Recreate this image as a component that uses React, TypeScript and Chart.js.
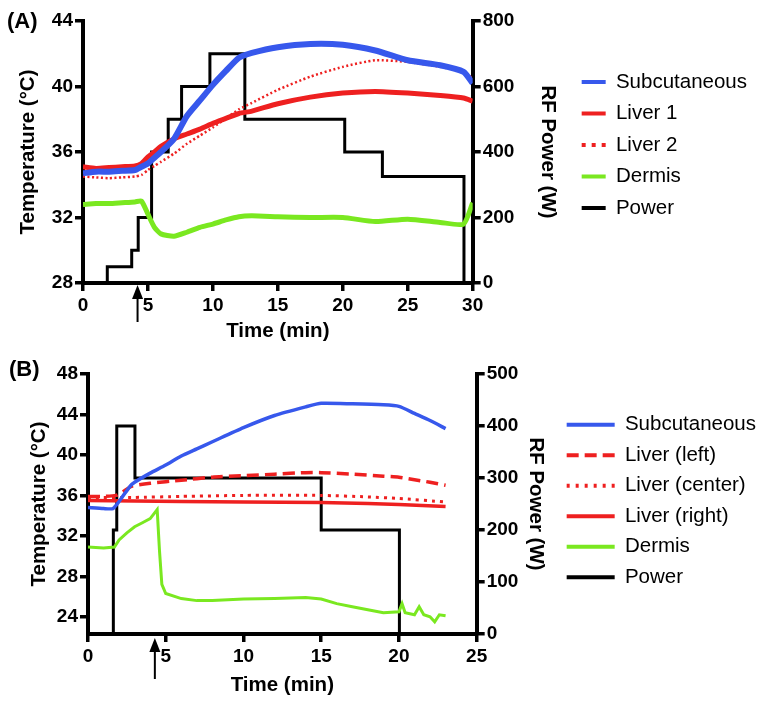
import React, { useEffect, useRef } from 'react';
import { Chart, registerables } from 'chart.js';

Chart.register(...registerables);

const FONT = "'Liberation Sans', Arial, Helvetica, sans-serif";
const BLUE = 'rgb(55,88,236)';
const RED = 'rgb(238,32,32)';
const GREEN = 'rgb(122,232,32)';
const BLACK = '#000000';

// ---------- Panel A ----------
const xTicksA = [0, 5, 10, 15, 20, 25, 30];
const tempTicksA = [28, 32, 36, 40, 44];
const powerTicksA = [0, 200, 400, 600, 800];
const timeA = [0, 1, 2, 3, 4, 4.5, 5, 5.5, 6, 7, 8, 9, 10, 11, 12, 13, 15, 17.5, 20, 22.5, 25, 27.5, 29.3, 30];
const subcutaneousA = [34.7, 34.8, 34.8, 34.85, 34.9, 35.1, 35.3, 35.65, 36.0, 36.8, 38.2, 39.15, 40.1, 40.95, 41.75, 42.05, 42.4, 42.6, 42.55, 42.2, 41.6, 41.3, 40.9, 40.2];
const liver1A = [35.1, 35.0, 35.05, 35.1, 35.15, 35.3, 35.7, 36.0, 36.35, 36.8, 37.1, 37.4, 37.75, 38.05, 38.35, 38.5, 38.95, 39.35, 39.6, 39.7, 39.6, 39.45, 39.3, 39.1];
const liver2A = [34.5, 34.45, 34.4, 34.45, 34.5, 34.6, 34.9, 35.15, 35.4, 35.9, 36.5, 37.0, 37.5, 38.05, 38.6, 39.0, 39.8, 40.6, 41.2, 41.6, 41.5, 41.2, 40.9, 40.5];
const dermisA = [32.8, 32.85, 32.85, 32.9, 32.95, 33.0, 32.2, 31.4, 31.0, 30.85, 31.1, 31.4, 31.6, 31.85, 32.05, 32.1, 32.05, 32.0, 32.0, 31.75, 31.9, 31.7, 31.6, 32.9];
const powerTimeA = [0, 1.87, 3.75, 4.25, 5.28, 6.56, 7.59, 9.77, 12.46, 20.15, 23.05, 29.33];
const powerA = [0, 50, 100, 200, 400, 500, 600, 700, 500, 400, 325, 0];
const arrowTimeA = 4.2;
const labelsA = ['Subcutaneous', 'Liver 1', 'Liver 2', 'Dermis', 'Power'];

// ---------- Panel B ----------
const xTicksB = [0, 5, 10, 15, 20, 25];
const tempTicksB = [24, 28, 32, 36, 40, 44, 48];
const powerTicksB = [0, 100, 200, 300, 400, 500];
const subTimeB = [0, 1, 1.6, 2, 2.7, 3, 4, 5, 6, 7, 8, 10, 12, 14, 15, 17, 19, 20, 21, 22, 23];
const subcutaneousB = [34.8, 34.7, 34.7, 35.4, 36.9, 37.3, 38.2, 39.0, 39.9, 40.6, 41.3, 42.7, 43.9, 44.75, 45.1, 45.05, 44.95, 44.8, 44.1, 43.4, 42.6];
const leftTimeB = [0, 1, 1.8, 2.2, 2.8, 4, 6, 8, 10, 12, 14, 15, 17, 19, 20, 21, 22, 23];
const liverLeftB = [35.9, 35.9, 36.0, 36.3, 36.9, 37.2, 37.5, 37.8, 37.95, 38.1, 38.25, 38.25, 38.1, 37.9, 37.8, 37.55, 37.3, 37.0];
const centerTimeB = [0, 3, 6, 10, 15, 18, 20, 23];
const liverCenterB = [35.8, 35.8, 35.9, 36.0, 36.0, 35.85, 35.7, 35.35];
const rightTimeB = [0, 3, 6, 10, 15, 18, 20, 23];
const liverRightB = [35.5, 35.45, 35.4, 35.35, 35.3, 35.2, 35.1, 34.9];
const dermisTimeB = [0, 1, 1.7, 2, 2.5, 3, 3.5, 4, 4.45, 4.6, 4.75, 5, 6, 7, 8, 10, 12, 14, 15, 16, 17, 18, 19, 20, 20.2, 20.4, 21, 21.3, 21.6, 22, 22.3, 22.6, 23];
const dermisB = [30.9, 30.8, 30.9, 31.6, 32.3, 32.9, 33.3, 33.7, 34.6, 30.5, 27.2, 26.3, 25.8, 25.6, 25.6, 25.75, 25.8, 25.9, 25.75, 25.3, 25.0, 24.7, 24.4, 24.5, 25.3, 24.4, 24.2, 25.0, 24.2, 24.0, 23.5, 24.2, 24.1];
const powerTimeB = [0, 1.63, 1.85, 3.02, 15.0, 20.03];
const powerB = [0, 200, 400, 300, 200, 0];
const arrowTimeB = 4.3;
const labelsB = ['Subcutaneous', 'Liver (left)', 'Liver (center)', 'Liver (right)', 'Dermis', 'Power'];

const pts = (xs: number[], ys: number[]) => xs.map((x, i) => ({ x, y: ys[i] }));

function line(label: string, data: any[], color: string, width: number, dash: number[], legendDash: number[], extra: any = {}) {
  return {
    label,
    data,
    borderColor: color,
    backgroundColor: color,
    borderWidth: width,
    borderDash: dash,
    legendDash,
    pointRadius: 0,
    pointStyle: 'line',
    fill: false,
    tension: 0.2,
    ...extra,
  };
}

function axisCommon(tickVals: number[]) {
  return {
    border: { display: true, width: 4, color: BLACK },
    grid: { display: true, drawOnChartArea: false, drawTicks: true, tickLength: 8, lineWidth: 3.5, tickWidth: 3.5, tickColor: BLACK, color: BLACK },
    ticks: { color: BLACK, font: { family: FONT, size: 19, weight: 'bold' }, padding: 2, maxRotation: 0, autoSkip: false },
    afterBuildTicks: (s: any) => { s.ticks = tickVals.map((v) => ({ value: v })); },
  };
}

function titleOpts(text: string, padding: any) {
  return { display: true, text, color: BLACK, font: { family: FONT, size: 20.5, weight: 'bold' }, padding };
}

function decor(label: string, lx: number, ly: number, arrowTime: number, arrowTop: number, arrowLen: number, legendShift: number) {
  return {
    id: 'decor',
    afterLayout(chart: any) {
      if (chart.legend) {
        chart.legend.top -= legendShift;
        chart.legend.bottom -= legendShift;
      }
    },
    afterDraw(chart: any) {
      const ctx = chart.ctx;
      ctx.save();
      ctx.fillStyle = BLACK;
      ctx.font = `bold 22px ${FONT}`;
      ctx.textBaseline = 'middle';
      ctx.textAlign = 'left';
      ctx.fillText(label, lx, ly);
      const x = chart.scales.x.getPixelForValue(arrowTime);
      const y0 = chart.chartArea.bottom + arrowTop;
      ctx.strokeStyle = BLACK;
      ctx.lineWidth = 2;
      ctx.beginPath();
      ctx.moveTo(x, y0 + 10);
      ctx.lineTo(x, y0 + arrowLen);
      ctx.stroke();
      ctx.beginPath();
      ctx.moveTo(x, y0);
      ctx.lineTo(x - 5.5, y0 + 14);
      ctx.lineTo(x + 5.5, y0 + 14);
      ctx.closePath();
      ctx.fill();
      ctx.restore();
    },
  };
}

function legendOpts(lineW: number, pad: number) {
  return {
    position: 'right',
    align: 'center',
    fullSize: false,
    maxWidth: 260,
    labels: {
      usePointStyle: true,
      pointStyleWidth: lineW,
      padding: pad,
      color: BLACK,
      font: { family: FONT, size: 20.5 },
      generateLabels: (chart: any) =>
        chart.data.datasets.map((ds: any, i: number) => ({
          text: ds.label,
          fillStyle: ds.borderColor,
          strokeStyle: ds.borderColor,
          fontColor: BLACK,
          lineWidth: 4,
          lineDash: ds.legendDash,
          lineCap: 'butt',
          pointStyle: 'line',
          hidden: false,
          datasetIndex: i,
        })),
    },
  };
}

function configA(): any {
  return {
    type: 'line',
    data: {
      datasets: [
        line(labelsA[0], pts(timeA, subcutaneousA), BLUE, 6, [], []),
        line(labelsA[1], pts(timeA, liver1A), RED, 5, [], []),
        line(labelsA[2], pts(timeA, liver2A), RED, 2.5, [2, 2.5], [4, 6]),
        line(labelsA[3], pts(timeA, dermisA), GREEN, 5, [], []),
        line(labelsA[4], pts(powerTimeA, powerA), BLACK, 3, [], [], { yAxisID: 'y1', stepped: true, tension: 0 }),
      ],
    },
    options: {
      responsive: false,
      animation: false,
      layout: { padding: { top: 21, right: 16, left: 0, bottom: 0 } },
      plugins: { legend: legendOpts(24, 11), tooltip: { enabled: false } },
      scales: {
        x: { type: 'linear', min: 0, max: 30, ...axisCommon(xTicksA), ticks: { ...axisCommon(xTicksA).ticks, padding: 3 }, title: titleOpts('Time (min)', { top: 0, bottom: 6 }), afterFit: (s: any) => { s.height = 67; } },
        y: { type: 'linear', position: 'left', min: 28, max: 44, ...axisCommon(tempTicksA), title: titleOpts('Temperature (°C)', { top: 16, bottom: 0 }), afterFit: (s: any) => { s.width = 83; } },
        y1: { type: 'linear', position: 'right', min: 0, max: 800, ...axisCommon(powerTicksA), title: titleOpts('RF Power (W)', { top: 11, bottom: 0 }), afterFit: (s: any) => { s.width = 98; } },
      },
    },
    plugins: [decor('(A)', 7, 22, arrowTimeA, 2, 37, 7)],
  };
}

function configB(): any {
  return {
    type: 'line',
    data: {
      datasets: [
        line(labelsB[0], pts(subTimeB, subcutaneousB), BLUE, 3.5, [], []),
        line(labelsB[1], pts(leftTimeB, liverLeftB), RED, 3.5, [12, 6], [12, 6]),
        line(labelsB[2], pts(centerTimeB, liverCenterB), RED, 3, [3, 5], [3, 6]),
        line(labelsB[3], pts(rightTimeB, liverRightB), RED, 3.5, [], []),
        line(labelsB[4], pts(dermisTimeB, dermisB), GREEN, 3, [], [], { tension: 0 }),
        line(labelsB[5], pts(powerTimeB, powerB), BLACK, 3, [], [], { yAxisID: 'y1', stepped: true, tension: 0 }),
      ],
    },
    options: {
      responsive: false,
      animation: false,
      layout: { padding: { top: 24, right: 7, left: 0, bottom: 0 } },
      plugins: { legend: legendOpts(48, 10), tooltip: { enabled: false } },
      scales: {
        x: { type: 'linear', min: 0, max: 25, ...axisCommon(xTicksB), ticks: { ...axisCommon(xTicksB).ticks, padding: 3 }, title: titleOpts('Time (min)', { top: 0, bottom: 7 }), afterFit: (s: any) => { s.height = 71; } },
        y: { type: 'linear', position: 'left', min: 22.3, max: 48, ...axisCommon(tempTicksB), title: titleOpts('Temperature (°C)', { top: 27, bottom: 0 }), afterFit: (s: any) => { s.width = 88; } },
        y1: { type: 'linear', position: 'right', min: 0, max: 500, ...axisCommon(powerTicksB), title: titleOpts('RF Power (W)', { top: 9, bottom: 0 }), afterFit: (s: any) => { s.width = 80; } },
      },
    },
    plugins: [decor('(B)', 9, 20, arrowTimeB, 4, 41, 3)],
  };
}

function Panel({ make, height }: { make: () => any; height: number }) {
  const ref = useRef<HTMLCanvasElement>(null);
  useEffect(() => {
    const chart = new Chart(ref.current as HTMLCanvasElement, make());
    return () => chart.destroy();
  }, []);
  return <canvas ref={ref} width={773} height={height} style={{ display: 'block', width: 773, height }} />;
}

export default function App() {
  return (
    <div style={{ position: 'absolute', left: 0, top: 0, width: 773, height: 705, background: '#ffffff' }}>
      <Panel make={configA} height={350} />
      <Panel make={configB} height={355} />
    </div>
  );
}
